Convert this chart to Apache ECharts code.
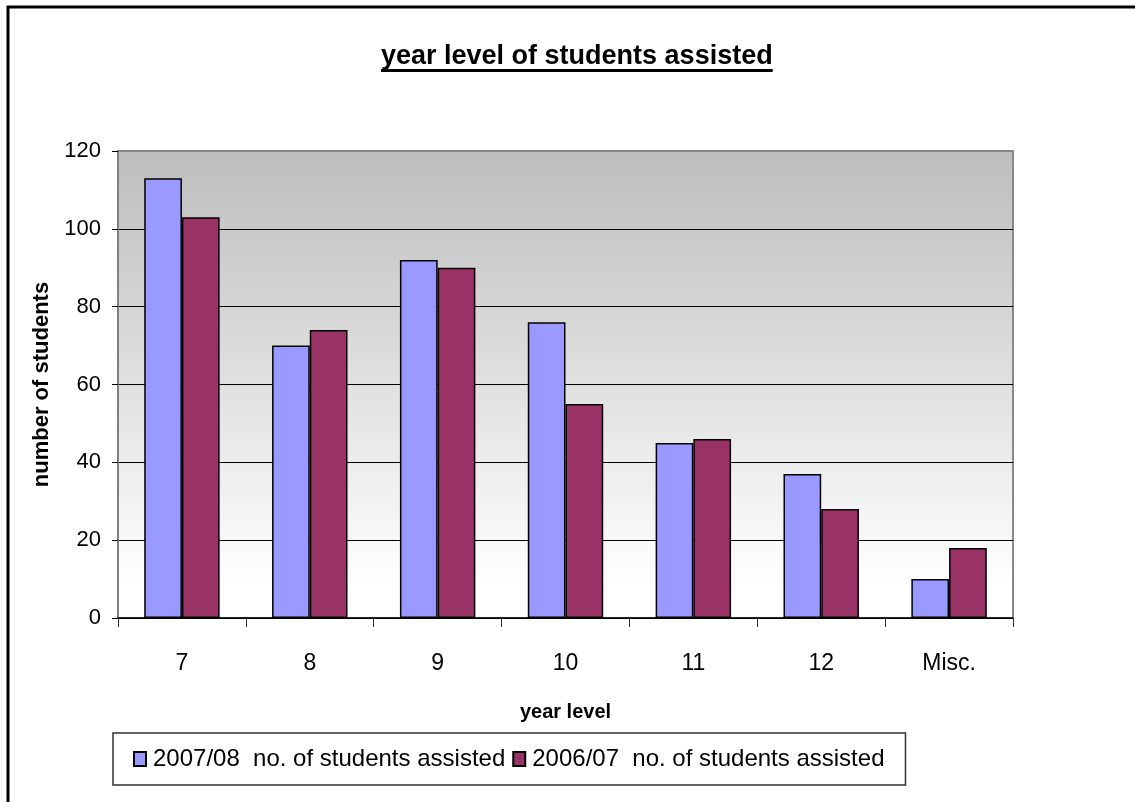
<!DOCTYPE html>
<html>
<head>
<meta charset="utf-8">
<script src="https://cdn.jsdelivr.net/npm/echarts@6/dist/echarts.min.js"></script>
<style>
html,body{margin:0;padding:0;background:#fff;}
#chart{width:1135px;height:802px;}
</style>
</head>
<body>
<div id="chart"></div>
<script>
var categories = ['7', '8', '9', '10', '11', '12', 'Misc.'];
var series2007 = [113, 70, 92, 76, 45, 37, 10];
var series2006 = [103, 74, 90, 55, 46, 28, 18];
var seriesNames = ['2007/08  no. of students assisted', '2006/07  no. of students assisted'];
var yTicks = { min: 0, max: 120, interval: 20 };

var ARIAL = '"Liberation Sans", Arial, sans-serif';

var titleText = 'year level of students assisted';
var titleSize = 27;
var mc = document.createElement('canvas').getContext('2d');
mc.font = 'bold ' + titleSize + 'px ' + ARIAL;
var titleW = mc.measureText(titleText).width;
var titleCenter = 577;
var titleLeft = Math.round(titleCenter - titleW / 2);

var chart = echarts.init(document.getElementById('chart'), null, { renderer: 'canvas' });
chart.setOption({
  backgroundColor: '#ffffff',
  animation: false,
  title: {
    text: titleText,
    left: titleLeft,
    top: 43,
    padding: 0,
    textStyle: { fontFamily: ARIAL, fontWeight: 'bold', fontSize: titleSize, color: '#000' }
  },
  graphic: [
    { type: 'rect', left: titleLeft, top: 69, shape: { width: titleW, height: 3 }, style: { fill: '#000' }, silent: true },
    { type: 'rect', shape: { x: 8, y: 7, width: 1300, height: 1000 }, style: { fill: 'none', stroke: '#000', lineWidth: 3 }, silent: true, z: 100 }
  ],
  legend: {
    data: seriesNames,
    left: 113,
    top: 733,
    orient: 'horizontal',
    itemWidth: 12,
    itemHeight: 14,
    itemGap: 7,
    padding: [14, 21, 14, 20],
    borderColor: '#333',
    borderWidth: 1.5,
    backgroundColor: '#fff',
    icon: 'rect',
    textStyle: { fontFamily: ARIAL, fontSize: 24, color: '#000', padding: [0, 0, 0, 2] }
  },
  grid: {
    left: 118, right: 122, top: 151, bottom: 184,
    show: true,
    borderColor: '#888',
    borderWidth: 2,
    backgroundColor: new echarts.graphic.LinearGradient(0, 0, 0, 1, [
      { offset: 0, color: '#bdbdbd' },
      { offset: 0.93, color: '#ffffff' },
      { offset: 1, color: '#ffffff' }
    ])
  },
  xAxis: {
    type: 'category',
    data: categories,
    name: 'year level',
    nameLocation: 'middle',
    nameGap: 84,
    nameTextStyle: { fontFamily: ARIAL, fontWeight: 'bold', fontSize: 20, color: '#000' },
    axisLine: { show: true, lineStyle: { color: '#000', width: 1.5 } },
    axisTick: { show: true, length: 9, alignWithLabel: false, lineStyle: { color: '#333', width: 1 } },
    axisLabel: { fontFamily: ARIAL, fontSize: 23, color: '#000', margin: 34 },
    splitLine: { show: false }
  },
  yAxis: {
    type: 'value',
    min: yTicks.min,
    max: yTicks.max,
    interval: yTicks.interval,
    name: 'number of students',
    nameLocation: 'middle',
    nameGap: 62,
    nameTextStyle: { fontFamily: ARIAL, fontWeight: 'bold', fontSize: 22, color: '#000' },
    axisLine: { show: true, lineStyle: { color: '#808080', width: 2 } },
    axisTick: { show: true, length: 6, lineStyle: { color: '#000', width: 1 } },
    axisLabel: { fontFamily: ARIAL, fontSize: 22, color: '#000', margin: 17 },
    splitLine: { show: true, lineStyle: { color: ['#000', '#000', '#000', '#000', '#000', '#000', '#888'], width: 1.2 } }
  },
  series: [
    {
      name: seriesNames[0],
      type: 'bar',
      data: series2007,
      barGap: '0%',
      barCategoryGap: '41%',
      itemStyle: { color: '#9999ff', borderColor: '#000', borderWidth: 1.5 }
    },
    {
      name: seriesNames[1],
      type: 'bar',
      data: series2006,
      itemStyle: { color: '#993366', borderColor: '#000', borderWidth: 1.5 }
    }
  ]
});
</script>
</body>
</html>
